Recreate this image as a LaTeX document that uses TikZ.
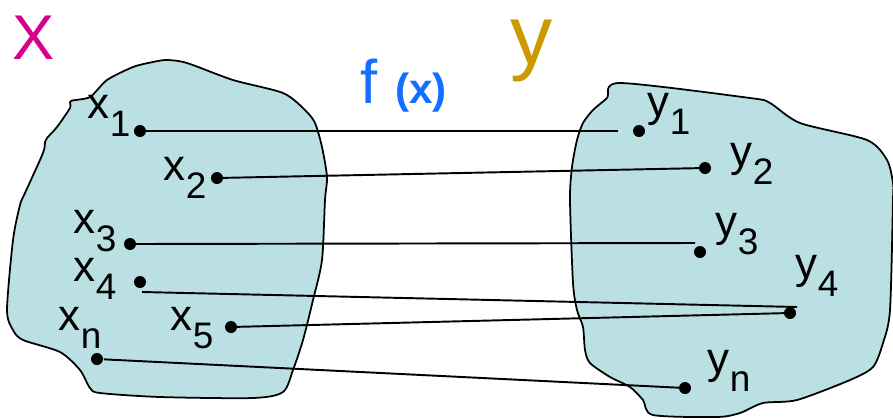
\documentclass[tikz,border=0pt]{standalone}
\usepackage{xcolor}
\usepackage{fontspec}
\setmainfont{Liberation Sans}
\usepackage{tikz}
\usetikzlibrary{positioning}

\definecolor{setfill}{RGB}{186,224,228}
\definecolor{setX}{RGB}{214,0,140}
\definecolor{setY}{RGB}{204,153,0}
\definecolor{fblue}{RGB}{20,110,255}
\newcommand{\elem}[2]{{\fontsize{25}{25}\selectfont #1}\raisebox{-10.5pt}{\fontsize{21}{21}\selectfont #2}}

\begin{document}
\begin{tikzpicture}[x=0.02cm, y=-0.02cm, line width=1.1pt,
    dot/.style={circle, fill=black, inner sep=0pt, minimum size=0.24cm},
    lbl/.style={anchor=base west, inner sep=0pt},
    blob/.style={draw=black, fill=setfill, line width=1pt}]
    \useasboundingbox (0,0) rectangle (893,417);
    % the two sets
    \draw[blob] plot[smooth cycle, tension=0.45] coordinates {
        (71,101) (90,97) (107,80) (133,67) (153,62) (167,60) (187,63)
        (233,80) (283,93) (305,110) (315,123) (322,147) (327,177)
        (325,200) (322,260) (313,300) (303,340) (293,370) (283,392)
        (253,398) (160,397) (100,393) (90,388) (80,370) (60,352)
        (23,340) (13,330) (7,310) (13,240) (20,205) (25,193) (43,153)
        (45,142) (47,138) (57,127) (70,108)};
    \draw[blob] plot[smooth cycle, tension=0.45] coordinates {
        (620,83) (750,98) (770,103) (800,123) (867,140) (887,160)
        (893,183) (893,200) (890,310) (883,343) (873,367) (850,380)
        (797,400) (763,403) (740,413) (717,417) (653,415) (643,400)
        (630,387) (610,377) (590,363) (585,350) (583,327) (577,310)
        (573,283) (570,200) (572,167) (577,140) (583,123) (593,110)
        (607,98)};
    % titles
    \node[lbl, text=setX] (X) at (12,59) {\fontsize{36}{36}\selectfont X};
    \node[lbl, text=setY] (Y) at (510,64) {\fontsize{48}{48}\selectfont y};
    \node[lbl, text=fblue] (f) at (360,103)
        {\fontsize{35}{35}\selectfont f {\bfseries\fontsize{24}{24}\selectfont (x)}};
    % elements of X
    \node[dot] (x1) at (140,131) {};
    \node[dot] (x2) at (217,178) {};
    \node[dot] (x3) at (130,244) {};
    \node[dot] (x4) at (140,282) {};
    \node[dot] (x5) at (231,327) {};
    \node[dot] (xn) at (97,359) {};
    \node[lbl] (lx1) at (87,118) {\elem{x}{1}};
    \node[lbl] (lx2) at (163,180) {\elem{x}{2}};
    \node[lbl] (lx3) at (73,233) {\elem{x}{3}};
    \node[lbl] (lx4) at (73,281) {\elem{x}{4}};
    \node[lbl] (lx5) at (170,330) {\elem{x}{5}};
    \node[lbl] (lxn) at (58,330) {\elem{x}{n}};
    % elements of y
    \node[dot] (y1) at (639,131) {};
    \node[dot] (y2) at (705,168) {};
    \node[dot] (y3) at (700,252) {};
    \node[dot] (y4) at (790,313) {};
    \node[dot] (yn) at (685,388) {};
    \node[lbl] (ly1) at (647,116) {\elem{y}{1}};
    \node[lbl] (ly2) at (730,166) {\elem{y}{2}};
    \node[lbl] (ly3) at (715,236) {\elem{y}{3}};
    \node[lbl] (ly4) at (795,278) {\elem{y}{4}};
    \node[lbl] (lyn) at (707,373) {\elem{y}{n}};
    % loose line ends
    \coordinate (e1) at (618,131);
    \coordinate (e3) at (695,243);
    \coordinate (s4) at (142,292);
    \coordinate (e4) at (797,307);
    % mapping
    \draw (x1.center) -- (e1);
    \draw (x2.center) -- (y2.center);
    \draw (x3.center) -- (e3);
    \draw (s4) -- (e4);
    \draw (x5.center) -- (y4.center);
    \draw (xn) -- (yn.center);
\end{tikzpicture}
\end{document}
